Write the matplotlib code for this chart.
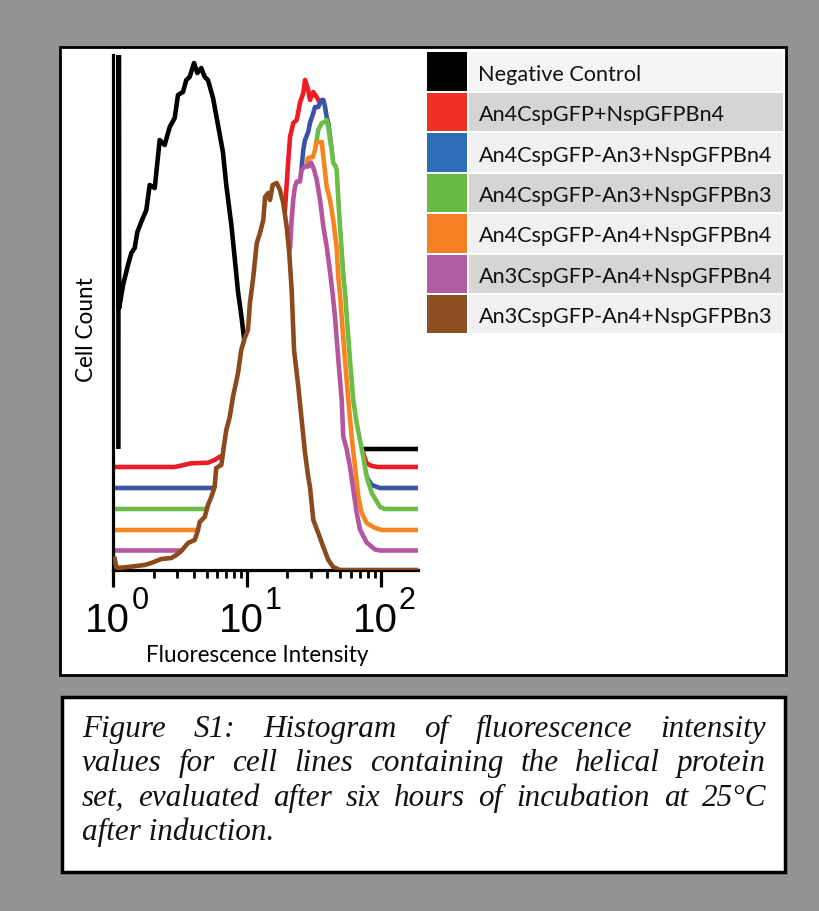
import numpy as np
import matplotlib
matplotlib.use("Agg")
import matplotlib.pyplot as plt
from matplotlib.patches import Rectangle
from matplotlib.font_manager import FontProperties
from matplotlib.ticker import NullFormatter
import matplotlib.transforms as mtransforms

# ---------------- data (log10 fluorescence intensity, cell count) ----------------
series_names = ["Negative Control", "An4CspGFP+NspGFPBn4", "An4CspGFP-An3+NspGFPBn4",
                "An4CspGFP-An3+NspGFPBn3", "An4CspGFP-An4+NspGFPBn4",
                "An3CspGFP-An4+NspGFPBn4", "An3CspGFP-An4+NspGFPBn3"]

neg_logx = [0.038, 0.039, 0.044, 0.073, 0.110, 0.135, 0.160, 0.180, 0.209, 0.247, 0.272, 0.310,
            0.347, 0.384, 0.422, 0.459, 0.484, 0.521, 0.546, 0.571, 0.604, 0.628, 0.658, 0.684,
            0.708, 0.746, 0.783, 0.820, 0.845, 0.883, 0.908, 0.933, 0.957, 0.978, 1.022, 1.082,
            1.142, 2.300]
neg_count = [0, 1000, 141, 164, 184, 196, 201, 217, 227, 239, 264, 261, 309, 304, 322, 331, 354,
             357, 369, 372, 386, 376, 381, 372, 369, 351, 324, 297, 264, 224, 191, 157, 134, 111,
             59, 19, 0, 0]

red_logx = [0.000, 0.459, 0.583, 0.708, 0.758, 0.796, 0.835, 0.873, 0.948, 1.022, 1.097, 1.172,
            1.247, 1.284, 1.309, 1.322, 1.346, 1.372, 1.396, 1.421, 1.434, 1.458, 1.471, 1.496,
            1.521, 1.546, 1.561, 1.584, 1.607, 1.630, 1.660, 1.697, 1.733, 1.770, 1.793, 1.823,
            1.845, 1.870, 1.895, 1.933, 1.981, 2.300]
red_count = [0, 0, 3.7, 4.3, 7, 10.3, 12, 15, 27, 57, 107, 167, 227, 257, 307, 330, 344, 347, 364,
             374, 387, 377, 367, 375, 370, 364, 352, 342, 327, 307, 277, 217, 157, 92, 55, 35, 22,
             13.7, 3.7, 1, 0, 0]

blue_logx = [0.000, 0.738, 0.798, 0.948, 1.060, 1.172, 1.247, 1.323, 1.396, 1.409, 1.421, 1.434,
             1.458, 1.471, 1.496, 1.509, 1.533, 1.546, 1.559, 1.571, 1.584, 1.596, 1.608, 1.633,
             1.645, 1.671, 1.696, 1.733, 1.770, 1.795, 1.820, 1.845, 1.870, 1.895, 1.933, 1.995,
             2.300]
blue_count = [0, 0, 3, 23, 68, 128, 188, 233, 303, 321, 338, 348, 356, 365, 375, 381, 381, 385,
              388, 388, 381, 371, 365, 338, 320, 308, 253, 188, 120, 80, 56, 40, 25, 11, 3, 0, 0]

green_logx = [0.000, 0.723, 0.798, 0.948, 1.060, 1.172, 1.247, 1.323, 1.396, 1.434, 1.471, 1.493,
              1.509, 1.521, 1.533, 1.559, 1.584, 1.596, 1.608, 1.621, 1.633, 1.645, 1.658, 1.671,
              1.683, 1.696, 1.708, 1.720, 1.733, 1.746, 1.770, 1.795, 1.820, 1.845, 1.870, 1.895,
              1.933, 1.995, 2.032, 2.300]
green_count = [0, 0, 2, 14, 49, 119, 179, 234, 299, 319, 337, 347, 357, 369, 379, 386, 387, 389,
               382, 369, 359, 346, 344, 339, 309, 282, 258, 232, 217, 192, 149, 109, 86, 69, 52,
               32, 16, 2, 0, 0]

orange_logx = [0.000, 0.648, 0.798, 0.948, 1.060, 1.172, 1.247, 1.323, 1.396, 1.434, 1.456,
               1.493, 1.509, 1.521, 1.559, 1.571, 1.596, 1.621, 1.645, 1.671, 1.683, 1.696, 1.708,
               1.733, 1.758, 1.783, 1.808, 1.833, 1.858, 1.895, 1.957, 2.010, 2.300]
orange_count = [0, 0, 8, 30, 80, 160, 220, 268, 335, 355, 372, 373, 380, 388, 388, 373, 343, 330,
                310, 282, 253, 235, 213, 170, 130, 93, 63, 33, 17, 7, 2, 0, 0]

magenta_logx = [0.000, 0.574, 0.648, 0.798, 0.948, 1.060, 1.172, 1.247, 1.300, 1.323, 1.334,
                1.346, 1.359, 1.372, 1.396, 1.409, 1.434, 1.458, 1.479, 1.501, 1.521, 1.546,
                1.571, 1.596, 1.621, 1.641, 1.658, 1.683, 1.708, 1.720, 1.746, 1.770, 1.795,
                1.820, 1.845, 1.895, 1.957, 1.995, 2.300]
magenta_count = [0, 0, 6, 26, 71, 131, 211, 261, 291, 304, 331, 351, 364, 369, 369, 381, 384,
                 384, 388, 381, 371, 351, 324, 304, 279, 256, 234, 191, 151, 114, 101, 84, 61, 38,
                 21, 8, 1, 0, 0]

brown_logx = [0.000, 0.010, 0.022, 0.035, 0.110, 0.235, 0.284, 0.359, 0.434, 0.471, 0.509, 0.559,
              0.609, 0.634, 0.646, 0.684, 0.708, 0.733, 0.758, 0.770, 0.808, 0.820, 0.845, 0.871,
              0.895, 0.933, 0.957, 0.983, 1.007, 1.022, 1.047, 1.073, 1.097, 1.122, 1.135, 1.159,
              1.172, 1.192, 1.222, 1.247, 1.271, 1.297, 1.316, 1.334, 1.352, 1.384, 1.409, 1.434,
              1.458, 1.471, 1.496, 1.533, 1.571, 1.608, 1.645, 1.696, 2.300]
brown_count = [8, 12, 3, 2, 3, 5, 7, 11, 12, 15, 19, 27, 30, 40, 48, 53, 65, 73, 83, 102, 105,
               117, 140, 153, 173, 197, 220, 232, 240, 267, 293, 327, 337, 350, 373, 377, 370, 385,
               387, 380, 367, 343, 317, 280, 220, 183, 150, 117, 93, 83, 50, 37, 23, 10, 3, 0, 0]

major_exponents = [0, 1, 2]

caption_lines = ["Figure S1: Histogram of fluorescence intensity",
                 "values for cell lines containing the helical protein",
                 "set, evaluated after six hours of incubation at 25\u00b0C",
                 "after induction."]

# ---------------- styles ----------------
line_colors = ["#000000", "#ed1c24", "#3a53a4", "#6cbd45", "#f6851f", "#b6559f", "#8b4a1c"]
swatch_colors = ["#000000", "#ee3124", "#2e6db5", "#66bb46", "#f58024", "#b05ca5", "#8d4f22"]
row_colors = ["#f4f5f4", "#d5d5d5", "#eff0ef", "#d5d5d5", "#eff0ef", "#d5d5d5", "#eff0ef"]
offsets = [121, 103, 82, 61, 40, 19.5, 0]

W, H = 820, 911
fig = plt.figure(figsize=(W / 100, H / 100), dpi=100, facecolor="#939393")
renderer = fig.canvas.get_renderer()


def fx(px):
    return px / W


def fy(py):
    return 1 - py / H


def box(x0, y0, x1, y1, **kw):
    r = Rectangle((fx(x0), fy(y1)), (x1 - x0) / W, (y1 - y0) / H,
                  transform=fig.transFigure, **kw)
    fig.add_artist(r)
    return r


def text_width(s, fp):
    w, h, d = renderer.get_text_width_height_descent(s, fp, ismath=False)
    return w


def fit_size(s, family, target, style="normal"):
    fp = FontProperties(family=family, size=10, style=style)
    return 10 * target / text_width(s, fp)


# panels
box(60.5, 47, 786, 675, facecolor="white", edgecolor="black", lw=2, zorder=-5)
box(62, 697, 785, 872, facecolor="white", edgecolor="black", lw=2.5, zorder=-5)

# ---------------- main axes ----------------
ax = fig.add_axes([fx(113.3), fy(570), (418 - 113.3) / W, (570 - 55) / H])
ax.set_xscale("log")
ax.set_xlim(1, 10 ** 2.279)
ax.set_ylim(0, 515)
ax.patch.set_alpha(0)

all_logx = [neg_logx, red_logx, blue_logx, green_logx, orange_logx, magenta_logx, brown_logx]
all_count = [neg_count, red_count, blue_count, green_count, orange_count, magenta_count, brown_count]

for i, (lx, cnt) in enumerate(zip(all_logx, all_count)):
    x = 10 ** np.asarray(lx, dtype=float)
    y = offsets[i] + np.asarray(cnt, dtype=float)
    ax.fill_between(x, 0, y, color="white", lw=0, zorder=3 + 2 * i)
    ax.plot(x, y, color=line_colors[i], lw=3.3, zorder=4 + 2 * i,
            solid_joinstyle="round", solid_capstyle="butt")

for side in ["top", "right"]:
    ax.spines[side].set_visible(False)
for side in ["left", "bottom"]:
    ax.spines[side].set_linewidth(2.3)
    ax.spines[side].set_zorder(15.5)
ax.set_yticks([])
ax.tick_params(axis="x", which="major", direction="out", length=12, width=2.3)
ax.tick_params(axis="x", which="minor", direction="out", length=6, width=2.0)
ax.xaxis.set_major_formatter(NullFormatter())
ax.xaxis.set_minor_formatter(NullFormatter())

# tick labels 10^e
blend = mtransforms.blended_transform_factory(ax.transData, fig.transFigure)
for e in major_exponents:
    v = 10.0 ** e
    t_main = mtransforms.offset_copy(blend, fig=fig, x=17, y=0, units="dots")
    t_sup = mtransforms.offset_copy(blend, fig=fig, x=18, y=0, units="dots")
    ax.text(v, fy(632), "10", transform=t_main, ha="right", va="baseline",
            fontsize=29, family="Liberation Sans", clip_on=False)
    ax.text(v, fy(609), str(e), transform=t_sup, ha="left", va="baseline",
            fontsize=22, family="Liberation Sans", clip_on=False)

# axis labels
lab_size = fit_size("Fluorescence Intensity", "Lato", 223)
fig.text(fx(257.7), fy(655), "Fluorescence Intensity", ha="center", va="center",
         family="Lato", fontsize=lab_size)
fig.text(fx(87), fy(330), "Cell Count", ha="center", va="center", rotation=90,
         family="Lato", fontsize=lab_size)

# ---------------- legend table ----------------
leg_size = fit_size("An4CspGFP-An3+NspGFPBn4", "Lato", 293)
for i, name in enumerate(series_names):
    top = 52.5 + i * 40.4
    bot = top + 38.5
    box(427.3, top, 467.3, bot, facecolor=swatch_colors[i], edgecolor="none")
    box(469.0, top, 783.0, bot, facecolor=row_colors[i], edgecolor="none")
    fig.text(fx(478.5), fy(top + 28.3), name, ha="left", va="baseline",
             family="Lato", fontsize=leg_size, color="#111111")

# ---------------- justified caption ----------------
cap_fp = FontProperties(family="Liberation Serif", style="italic", size=22.4)
x_left, x_right = 82.0, 766.0
baselines = [736.8, 771.2, 805.6, 840.0]
for li, line in enumerate(caption_lines):
    words = line.split(" ")
    if li == len(caption_lines) - 1:
        fig.text(fx(x_left), fy(baselines[li]), line, ha="left", va="baseline",
                 fontproperties=cap_fp, color="#111111")
        continue
    widths = [text_width(w, cap_fp) for w in words]
    gap = (x_right - x_left - sum(widths)) / (len(words) - 1)
    xpos = x_left
    for w, wd in zip(words, widths):
        fig.text(fx(xpos), fy(baselines[li]), w, ha="left", va="baseline",
                 fontproperties=cap_fp, color="#111111")
        xpos += wd + gap

fig.savefig("out.png", dpi=100, facecolor=fig.get_facecolor())
